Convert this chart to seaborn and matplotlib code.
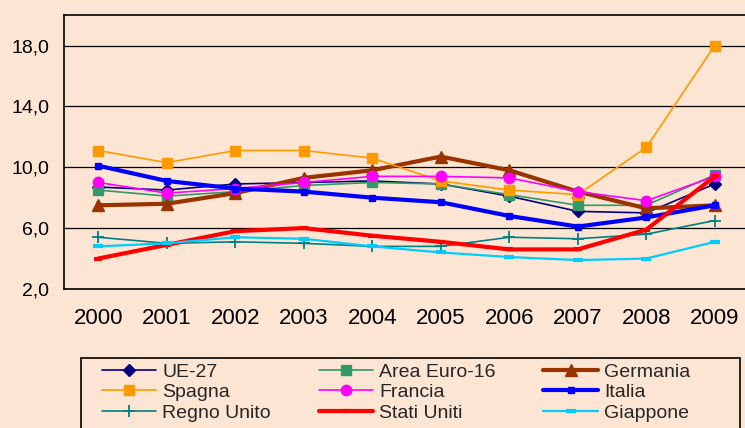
import numpy as np
import pandas as pd
import matplotlib.pyplot as plt
import matplotlib.patches as mpatches
import seaborn as sns

anni = [2000, 2001, 2002, 2003, 2004, 2005, 2006, 2007, 2008, 2009]

ue27 = [8.7, 8.5, 8.9, 9.0, 9.1, 8.9, 8.1, 7.1, 7.0, 8.9]
euro16 = [8.5, 8.1, 8.4, 8.8, 9.0, 8.9, 8.2, 7.5, 7.5, 9.5]
germania = [7.5, 7.6, 8.3, 9.3, 9.8, 10.7, 9.8, 8.4, 7.3, 7.5]
spagna = [11.1, 10.3, 11.1, 11.1, 10.6, 9.1, 8.5, 8.2, 11.3, 18.0]
francia = [9.0, 8.3, 8.6, 9.0, 9.4, 9.4, 9.3, 8.4, 7.8, 9.4]
italia = [10.1, 9.1, 8.6, 8.4, 8.0, 7.7, 6.8, 6.1, 6.7, 7.5]
regno_unito = [5.4, 5.0, 5.1, 5.0, 4.8, 4.8, 5.4, 5.3, 5.6, 6.5]
stati_uniti = [4.0, 4.9, 5.8, 6.0, 5.5, 5.1, 4.6, 4.6, 5.9, 9.4]
giappone = [4.8, 5.0, 5.4, 5.3, 4.8, 4.4, 4.1, 3.9, 4.0, 5.1]

paesi = ["UE-27", "Area Euro-16", "Germania", "Spagna", "Francia", "Italia",
         "Regno Unito", "Stati Uniti", "Giappone"]
serie = [ue27, euro16, germania, spagna, francia, italia, regno_unito, stati_uniti, giappone]

y_ticks = [2, 6, 10, 14, 18]
y_labels = ["2,0", "6,0", "10,0", "14,0", "18,0"]

# stile di ogni serie: colore, marker, dimensione marker, spessore linea
stili = {
    "UE-27": ("#000080", "D", 6, 1.2),
    "Area Euro-16": ("#339966", "s", 6.5, 1.2),
    "Germania": ("#993300", "^", 8, 3.0),
    "Spagna": ("#FF9900", "s", 7, 1.2),
    "Francia": ("#FF00FF", "o", 7.5, 1.2),
    "Italia": ("#0000FF", "s", 4.5, 3.0),
    "Regno Unito": ("#008080", "+", 9, 1.2),
    "Stati Uniti": ("#FF0000", "_", 6, 3.0),
    "Giappone": ("#00CCFF", "_", 7, 1.6),
}

df = pd.DataFrame({p: v for p, v in zip(paesi, serie)})
df["anno"] = anni
df = df.melt(id_vars="anno", var_name="paese", value_name="valore")

sns.set_style("white")
plt.rcParams["font.family"] = ["Liberation Sans", "DejaVu Sans"]

sfondo = "#FDE5D3"
fig = plt.figure(figsize=(7.45, 4.28), dpi=100, facecolor=sfondo)
ax = fig.add_axes([0.0859, 0.3248, 0.9195, 0.640])
ax.set_facecolor(sfondo)

for p in paesi:
    col, mk, ms, lw = stili[p]
    sub = df[df["paese"] == p]
    mew = 3 if mk == "_" else (1.3 if mk == "+" else 1)
    sns.lineplot(data=sub, x="anno", y="valore", ax=ax, color=col, lw=lw,
                 marker=mk, markersize=ms, markeredgecolor=col,
                 markeredgewidth=mew, label=p)

if ax.get_legend() is not None:
    ax.get_legend().remove()

ax.set_xlim(1999.5, 2009.5)
ax.set_ylim(2, 20)
ax.set_yticks(y_ticks)
ax.set_yticklabels(y_labels)
ax.set_xticks(anni)
ax.set_xticklabels([str(a) for a in anni])
ax.set_xticks(np.arange(1999.5, 2010, 1), minor=True)
ax.tick_params(axis="x", which="major", length=0, pad=14, labelsize=16, colors="black")
ax.tick_params(axis="x", which="minor", length=5, width=1, color="black", direction="out")
ax.tick_params(axis="y", length=3.6, width=1, color="black", direction="out",
               pad=7, labelsize=14, labelcolor="black")
ax.set_xlabel("")
ax.set_ylabel("")
ax.grid(False)
for t in y_ticks:
    ax.axhline(t, color="black", lw=0.9, zorder=0)

for s in ["left", "bottom", "top"]:
    ax.spines[s].set_visible(True)
    ax.spines[s].set_color("black")
    ax.spines[s].set_linewidth(1.2)
ax.spines["right"].set_visible(False)

# legenda: ordine per colonne come nell'originale (3 colonne)
handles, labels = ax.get_legend_handles_labels()
ordine = [0, 3, 6, 1, 4, 7, 2, 5, 8]
h = [handles[i] for i in ordine]
l = [labels[i] for i in ordine]

riquadro = mpatches.Rectangle((81 / 745, -0.02), 659 / 745, 1 - 358 / 428 + 0.02,
                              transform=fig.transFigure, facecolor=sfondo,
                              edgecolor="black", lw=1.2)
fig.patches.append(riquadro)

fig.legend(h, l, loc="upper left", ncol=3, mode="expand",
           bbox_to_anchor=(102 / 745, 0, (690 - 102) / 745, 1 - 363 / 428),
           frameon=False, fontsize=14, handlelength=2.8, handletextpad=0.3,
           labelspacing=0.15, borderpad=0, borderaxespad=0)

fig.savefig("out.png", dpi=100, facecolor=fig.get_facecolor())
